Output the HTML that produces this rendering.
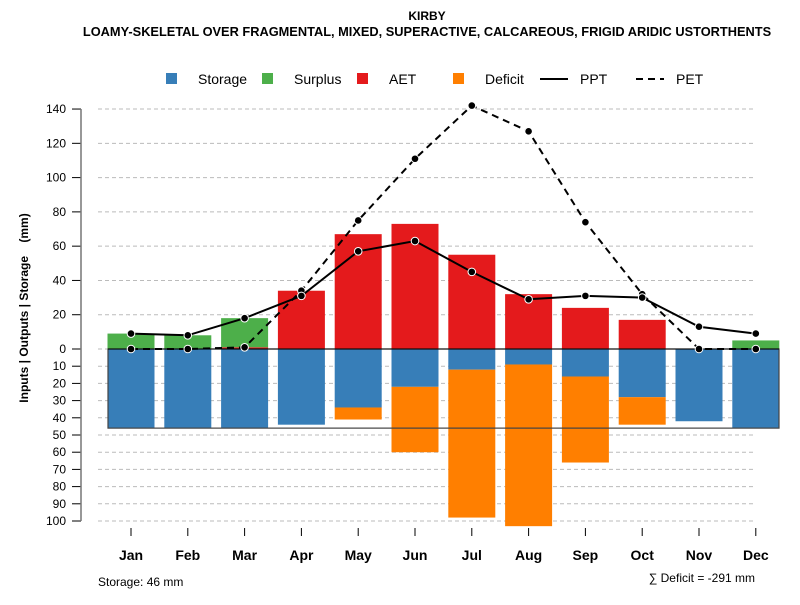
<!DOCTYPE html>
<html><head><meta charset="utf-8"><style>
body{margin:0;background:#fff;font-family:"Liberation Sans",sans-serif}
</style></head><body>
<svg id="c" width="800" height="600" xmlns="http://www.w3.org/2000/svg" font-family="Liberation Sans, sans-serif">
<text x="427" y="20" text-anchor="middle" font-size="12" font-weight="bold">KIRBY</text>
<text x="427" y="36" text-anchor="middle" font-size="12.8" font-weight="bold">LOAMY-SKELETAL OVER FRAGMENTAL, MIXED, SUPERACTIVE, CALCAREOUS, FRIGID ARIDIC USTORTHENTS</text>
<text transform="translate(28,308) rotate(-90)" text-anchor="middle" font-size="12" font-weight="bold" style="white-space:pre">Inputs | Outputs | Storage    (mm)</text>
<g id="legend" font-size="14">
<rect x="166" y="73" width="11" height="11" fill="#377eb8"/><text x="198" y="84">Storage</text>
<rect x="262" y="73" width="11" height="11" fill="#4daf4a"/><text x="294" y="84">Surplus</text>
<rect x="357" y="73" width="11" height="11" fill="#e41a1c"/><text x="389" y="84">AET</text>
<rect x="453" y="73" width="11" height="11" fill="#ff7f00"/><text x="485" y="84">Deficit</text>
<line x1="540" y1="79" x2="568" y2="79" stroke="#000" stroke-width="2"/><text x="580" y="84">PPT</text>
<line x1="636" y1="79" x2="664" y2="79" stroke="#000" stroke-width="2" stroke-dasharray="7,5"/><text x="676" y="84">PET</text>
</g>
<g id="grid"></g><g id="bars"></g><g id="lines"></g><g id="axes"></g>
<text x="98" y="586" font-size="12">Storage: 46 mm</text>
<text x="755" y="582" text-anchor="end" font-size="12">∑ Deficit = -291 mm</text>
</svg>
<script>
const months=["Jan","Feb","Mar","Apr","May","Jun","Jul","Aug","Sep","Oct","Nov","Dec"];
const storage=[46,46,46,44,34,22,12,9,16,28,42,46];
const deficit=[0,0,0,0,7,38,86,94,50,16,0,0];
const surplus=[9,8,17,0,0,0,0,0,0,0,0,5];
const aet=[0,0,1,34,67,73,55,32,24,17,0,0];
const ppt=[9,8,18,31,57,63,45,29,31,30,13,9];
const pet=[0,0,1,34,75,111,142,127,74,32,0,0];
const posTicks=[0,20,40,60,80,100,120,140];
const negTicks=[10,20,30,40,50,60,70,80,90,100];
const maxStorage=46;
const NS="http://www.w3.org/2000/svg";
const y0=349,sc=1.714;
const yPos=v=>y0-v*sc, yNeg=v=>y0+v*1.72;
const xC=i=>131+i*56.8, bw=47;
function mk(p,t,a){const e=document.createElementNS(NS,t);for(const k in a)e.setAttribute(k,a[k]);document.getElementById(p).appendChild(e);return e;}
posTicks.forEach(v=>{const y=yPos(v);
 const g=mk("grid","line",{x1:98,x2:755,y1:y,y2:y,stroke:"#bbb","stroke-dasharray":"4,3"});
 
 mk("axes","line",{x1:72,x2:81,y1:y,y2:y,stroke:"#000"});
 const t=mk("axes","text",{x:66,y:y+4,"text-anchor":"end","font-size":12});t.textContent=v;
 });
negTicks.forEach(v=>{const y=yNeg(v);
 const g=mk("grid","line",{x1:98,x2:755,y1:y,y2:y,stroke:"#bbb","stroke-dasharray":"4,3"});
 
 mk("axes","line",{x1:72,x2:81,y1:y,y2:y,stroke:"#000"});
 const t=mk("axes","text",{x:66,y:y+4,"text-anchor":"end","font-size":12});t.textContent=v;
 });
mk("axes","line",{x1:81,x2:81,y1:yPos(140),y2:yNeg(100),stroke:"#777","stroke-width":1.5});
months.forEach((m,i)=>{const x=xC(i);
 mk("axes","line",{x1:x,x2:x,y1:528,y2:536,stroke:"#000"});
 const t=mk("axes","text",{x:x,y:560,"text-anchor":"middle","font-size":14,"font-weight":"bold"});t.textContent=m;
 
 let b;
 b=mk("bars","rect",{x:x-bw/2,y:y0,width:bw,height:storage[i]*1.72,fill:"#377eb8"});
 
 if(deficit[i]>0){b=mk("bars","rect",{x:x-bw/2,y:yNeg(storage[i]),width:bw,height:deficit[i]*1.72,fill:"#ff7f00"});
 }
 if(aet[i]>0){b=mk("bars","rect",{x:x-bw/2,y:yPos(aet[i]),width:bw,height:aet[i]*sc,fill:"#e41a1c"});
 }
 if(surplus[i]>0){b=mk("bars","rect",{x:x-bw/2,y:yPos(aet[i]+surplus[i]),width:bw,height:surplus[i]*sc,fill:"#4daf4a"});
 }
});
let r=mk("bars","rect",{x:108,y:y0,width:671,height:maxStorage*1.72,fill:"none",stroke:"#444","stroke-width":1.2});

mk("bars","line",{x1:108,x2:779,y1:y0,y2:y0,stroke:"#000"});
function series(arr,dash,name){
 const p=mk("lines","polyline",{points:arr.map((v,i)=>xC(i)+","+yPos(v)).join(" "),fill:"none",stroke:"#000","stroke-width":2,"stroke-dasharray":dash});
 
 arr.forEach((v,i)=>{const c=mk("lines","circle",{cx:xC(i),cy:yPos(v),r:3.8,fill:"#000",stroke:"#fff","stroke-width":1});
 });
}
series(pet,"7,5","pet-line");
series(ppt,"none","ppt-line");
</script>
</body></html>
